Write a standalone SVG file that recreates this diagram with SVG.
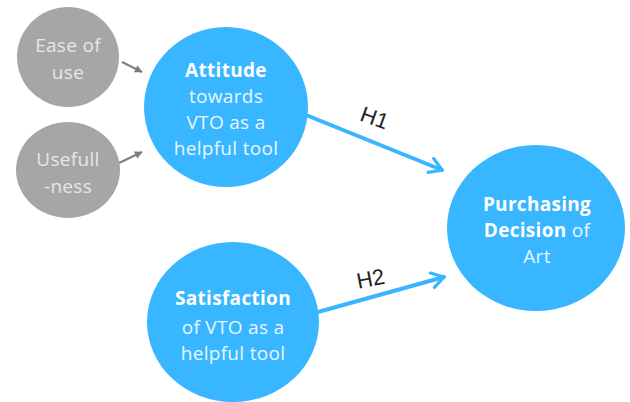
<svg xmlns="http://www.w3.org/2000/svg" width="630" height="402" viewBox="0 0 630 402">
<defs>
<style>
.blue{fill:#38B6FF}
.gray{fill:#A6A6A6}
.t{font-family:"Open Sans","Liberation Sans",sans-serif;font-size:19px;text-anchor:middle;letter-spacing:0.3px}
.tw{fill:#EAF7FF}
.tb{font-weight:bold;fill:#FFFFFF}
.tg{fill:#E6E6E6}
.lbl{font-family:"Liberation Sans",sans-serif;font-size:22px;fill:#222;text-anchor:middle}
.ca{stroke:#38B6FF;stroke-width:4;fill:none;stroke-linecap:round}
.cg{stroke:#7F7F7F;stroke-width:2;fill:none}
</style>
<marker id="ab" viewBox="0 0 12 12" refX="10" refY="6" markerWidth="4.5" markerHeight="4.5" orient="auto" markerUnits="strokeWidth">
<path d="M2,1 L10,6 L2,11" fill="none" stroke="#38B6FF" stroke-width="2.2" stroke-linecap="round" stroke-linejoin="round"/>
</marker>
<marker id="ag" viewBox="0 0 10 10" refX="9" refY="5" markerWidth="4" markerHeight="4" orient="auto" markerUnits="strokeWidth">
<path d="M0,0 L10,5 L0,10 z" fill="#7F7F7F"/>
</marker>
</defs>
<rect width="630" height="402" fill="#FFFFFF"/>
<g id="connectors">
<line class="cg" x1="122" y1="62" x2="142" y2="72" marker-end="url(#ag)"/>
<line class="cg" x1="119" y1="163" x2="142" y2="152" marker-end="url(#ag)"/>
<line class="ca" x1="306" y1="115" x2="442" y2="170" marker-end="url(#ab)"/>
<line class="ca" x1="318" y1="312" x2="444" y2="277" marker-end="url(#ab)"/>
<text class="lbl" transform="translate(372,125) rotate(20)">H1</text>
<text class="lbl" transform="translate(372,286) rotate(-11)">H2</text>
</g>
<g id="ease">
<ellipse class="gray" cx="68" cy="57" rx="51" ry="50"/>
<text class="t tg" x="68" y="52">Ease of</text>
<text class="t tg" x="68" y="79">use</text>
</g>
<g id="usefulness">
<ellipse class="gray" cx="68" cy="170" rx="52" ry="48"/>
<text class="t tg" x="68" y="166">Usefull</text>
<text class="t tg" x="68" y="193">-ness</text>
</g>
<g id="attitude">
<ellipse class="blue" cx="226" cy="107" rx="82" ry="80"/>
<text class="t tb" x="226" y="77">Attitude</text>
<text class="t tw" x="226" y="103">towards</text>
<text class="t tw" x="226" y="129">VTO as a</text>
<text class="t tw" x="226" y="155">helpful tool</text>
</g>
<g id="purchasing">
<ellipse class="blue" cx="536" cy="228" rx="89" ry="83"/>
<text class="t tb" x="537" y="211">Purchasing</text>
<text class="t tw" x="537" y="237"><tspan class="tb">Decision</tspan> of</text>
<text class="t tw" x="537" y="263">Art</text>
</g>
<g id="satisfaction">
<ellipse class="blue" cx="233" cy="322" rx="86" ry="80"/>
<text class="t tb" x="233" y="305">Satisfaction</text>
<text class="t tw" x="233" y="334">of VTO as a</text>
<text class="t tw" x="233" y="360">helpful tool</text>
</g>
</svg>
